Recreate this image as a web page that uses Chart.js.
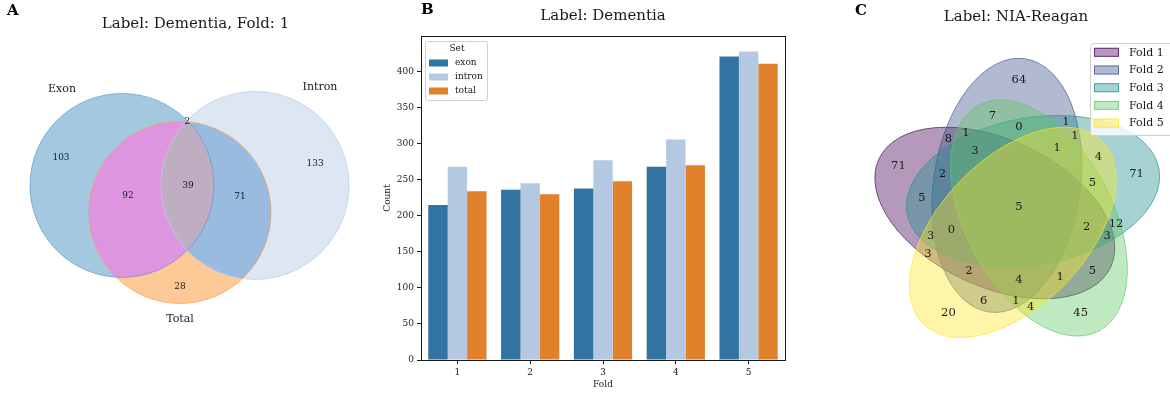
<!DOCTYPE html>
<html>
<head>
<meta charset="utf-8">
<script src="https://cdn.jsdelivr.net/npm/chart.js@4.4.0/dist/chart.umd.min.js"></script>
<style>
  body { margin: 0; background: #fff; width: 1170px; height: 393px; overflow: hidden; position: relative; }
  canvas { position: absolute; top: 0; }
</style>
</head>
<body>
<canvas id="chartA" width="380" height="393" style="left:0px"></canvas>
<canvas id="chartB" width="440" height="393" style="left:380px"></canvas>
<canvas id="chartC" width="330" height="393" style="left:840px"></canvas>
<script>
// Panel A : exon / intron / total, fold 1
const vennSets = ['Exon', 'Intron', 'Total'];
const vennRegions = ['100', '010', '001', '110', '101', '011', '111'];
const vennCounts = [103, 133, 28, 2, 92, 71, 39];

// Panel B : counts per fold
const folds = ['1', '2', '3', '4', '5'];
const exonCounts = [215, 236, 238, 268, 421];
const intronCounts = [268, 245, 277, 306, 428];
const totalCounts = [234, 230, 248, 270, 411];
const countTicks = [0, 50, 100, 150, 200, 250, 300, 350, 400];

// Panel C : NIA-Reagan, overlap of the five folds
const foldNames = ['Fold 1', 'Fold 2', 'Fold 3', 'Fold 4', 'Fold 5'];
const petalKeys = ['00001', '00010', '00011', '00100', '00101', '00110', '00111', '01000',
  '01001', '01010', '01011', '01100', '01101', '01110', '01111', '10000', '10001', '10010',
  '10011', '10100', '10101', '10110', '10111', '11000', '11001', '11010', '11011', '11100',
  '11101', '11110', '11111'];
const petalCounts = [20, 45, 4, 71, 4, 12, 5, 64,
  6, 7, 1, 1, 1, 0, 1, 71, 3, 5,
  1, 5, 3, 3, 2, 8, 2, 1, 4, 2,
  0, 3, 5];

Chart.defaults.font.family = "'DejaVu Serif', serif";
Chart.defaults.color = '#222';

const INK = '#1a1a1a';

// ---- geometry (layout, not data) ----
const circlesA = [
  { x: 0.2906, y: 0.5897, r: 0.2621 },
  { x: 0.6695, y: 0.5897, r: 0.2678 },
  { x: 0.4558, y: 0.5128, r: 0.2593 }
];
const setLabelPosA = [[0.1197, 0.8632], [0.8547, 0.8689], [0.4558, 0.2108]];
const regionPosA = [[0.1168, 0.6695], [0.8405, 0.6524], [0.4558, 0.3020], [0.4758, 0.7721],
  [0.3077, 0.5613], [0.6268, 0.5584], [0.4786, 0.5897]];
const regionColorsA = ['#a5c8e1', '#dde7f3', '#fdc997', '#c4d6ea', '#df94df', '#99bbe0', '#bfaec2'];
const edgeColorsA = ['rgba(31,119,180,0.45)', 'rgba(174,199,232,0.6)', 'rgba(255,127,14,0.45)'];

const ellipsesC = [
  { x: 0.428, y: 0.449, w: 0.87, h: 0.50, a: 155 },
  { x: 0.469, y: 0.543, w: 0.87, h: 0.50, a: 82 },
  { x: 0.558, y: 0.523, w: 0.87, h: 0.50, a: 10 },
  { x: 0.578, y: 0.432, w: 0.87, h: 0.50, a: 118 },
  { x: 0.489, y: 0.383, w: 0.87, h: 0.50, a: 46 }
];
const viridis5 = [[68, 1, 84], [59, 82, 139], [33, 145, 140], [94, 201, 98], [253, 231, 37]];
const petalPos = {
  '00001': [.27, .11], '00010': [.72, .11], '00011': [.55, .13], '00100': [.91, .58],
  '00101': [.78, .64], '00110': [.84, .41], '00111': [.76, .55], '01000': [.51, .90],
  '01001': [.39, .15], '01010': [.42, .78], '01011': [.50, .15], '01100': [.67, .76],
  '01101': [.70, .71], '01110': [.51, .74], '01111': [.64, .67], '10000': [.10, .61],
  '10001': [.20, .31], '10010': [.76, .25], '10011': [.65, .23], '10100': [.18, .50],
  '10101': [.21, .37], '10110': [.81, .37], '10111': [.74, .40], '11000': [.27, .70],
  '11001': [.34, .25], '11010': [.33, .72], '11011': [.51, .22], '11100': [.25, .58],
  '11101': [.28, .39], '11110': [.36, .66], '11111': [.51, .47]
};

function rgba(c, a) { return 'rgba(' + c[0] + ',' + c[1] + ',' + c[2] + ',' + a + ')'; }

function panelLetter(ctx, letter, x, y) {
  ctx.save();
  ctx.font = "bold 15px 'DejaVu Serif'";
  ctx.fillStyle = '#000';
  ctx.textAlign = 'left';
  ctx.textBaseline = 'middle';
  ctx.fillText(letter, x, y);
  ctx.restore();
}

function roundRect(ctx, x, y, w, h, r) {
  ctx.beginPath();
  ctx.moveTo(x + r, y);
  ctx.arcTo(x + w, y, x + w, y + h, r);
  ctx.arcTo(x + w, y + h, x, y + h, r);
  ctx.arcTo(x, y + h, x, y, r);
  ctx.arcTo(x, y, x + w, y, r);
  ctx.closePath();
}

const hiddenScales = {
  x: { type: 'linear', min: 0, max: 1, display: false },
  y: { type: 'linear', min: 0, max: 1, display: false }
};

// ---------------- Panel A ----------------
const vennPlugin = {
  id: 'venn3',
  afterDatasetsDraw(chart) {
    const ctx = chart.ctx, sx = chart.scales.x, sy = chart.scales.y;
    const W = chart.width, H = chart.height;
    const circ = circlesA.map(c => {
      const px = sx.getPixelForValue(c.x), py = sy.getPixelForValue(c.y);
      return { px, py, r: sx.getPixelForValue(c.x + c.r) - px };
    });
    vennRegions.forEach((key, i) => {
      ctx.save();
      key.split('').forEach((bit, k) => {
        const c = circ[k];
        ctx.beginPath();
        if (bit === '1') {
          ctx.arc(c.px, c.py, c.r, 0, 2 * Math.PI);
          ctx.clip();
        } else {
          ctx.rect(0, 0, W, H);
          ctx.arc(c.px, c.py, c.r, 0, 2 * Math.PI);
          ctx.clip('evenodd');
        }
      });
      ctx.fillStyle = regionColorsA[i];
      ctx.fillRect(0, 0, W, H);
      ctx.restore();
    });
    circ.forEach((c, k) => {
      ctx.beginPath();
      ctx.arc(c.px, c.py, c.r, 0, 2 * Math.PI);
      ctx.strokeStyle = edgeColorsA[k];
      ctx.lineWidth = 1;
      ctx.stroke();
    });
    ctx.save();
    ctx.fillStyle = INK;
    ctx.textAlign = 'center';
    ctx.textBaseline = 'middle';
    ctx.font = "9px 'DejaVu Serif'";
    vennCounts.forEach((v, i) => {
      ctx.fillText(String(v), sx.getPixelForValue(regionPosA[i][0]), sy.getPixelForValue(regionPosA[i][1]));
    });
    ctx.font = "11px 'DejaVu Serif'";
    vennSets.forEach((s, i) => {
      ctx.fillText(s, sx.getPixelForValue(setLabelPosA[i][0]), sy.getPixelForValue(setLabelPosA[i][1]));
    });
    ctx.restore();
    panelLetter(ctx, 'A', 7, 11);
  }
};

new Chart(document.getElementById('chartA'), {
  type: 'scatter',
  data: { datasets: [{ data: circlesA.map(c => ({ x: c.x, y: c.y })), pointRadius: 0 }] },
  options: {
    responsive: false,
    animation: false,
    layout: { padding: { left: 20, right: 9, top: 0, bottom: 0 } },
    plugins: {
      legend: { display: false },
      tooltip: { enabled: false },
      title: {
        display: true, text: 'Label: Dementia, Fold: 1', fullSize: false, color: INK,
        font: { size: 15, weight: 'normal' }, padding: { top: 15, bottom: 8 }
      }
    },
    scales: hiddenScales
  },
  plugins: [vennPlugin]
});

// ---------------- Panel B ----------------
const barDecor = {
  id: 'barDecor',
  afterDraw(chart) {
    const ctx = chart.ctx, a = chart.chartArea;
    ctx.save();
    ctx.strokeStyle = INK;
    ctx.lineWidth = 1;
    ctx.strokeRect(Math.round(a.left) + 0.5, Math.round(a.top) + 0.5,
      Math.round(a.right - a.left), Math.round(a.bottom - a.top));
    // legend box
    ctx.fillStyle = 'rgba(255,255,255,0.8)';
    ctx.strokeStyle = '#d0d0d0';
    roundRect(ctx, 45.5, 41.5, 62, 59, 2);
    ctx.fill();
    ctx.stroke();
    ctx.fillStyle = INK;
    ctx.font = "9px 'DejaVu Serif'";
    ctx.textBaseline = 'middle';
    ctx.textAlign = 'center';
    ctx.fillText('Set', 77, 49);
    ctx.textAlign = 'left';
    chart.data.datasets.forEach((ds, i) => {
      const y = 63 + i * 14;
      ctx.fillStyle = ds.backgroundColor;
      ctx.fillRect(49, y - 3.5, 19, 7);
      ctx.fillStyle = INK;
      ctx.fillText(ds.label, 75, y);
    });
    ctx.restore();
    panelLetter(ctx, 'B', 41, 10);
  }
};

new Chart(document.getElementById('chartB'), {
  type: 'bar',
  data: {
    labels: folds,
    datasets: [
      { label: 'exon', data: exonCounts, backgroundColor: '#3274a1' },
      { label: 'intron', data: intronCounts, backgroundColor: '#b5c8e1' },
      { label: 'total', data: totalCounts, backgroundColor: '#e1812c' }
    ]
  },
  options: {
    responsive: false,
    animation: false,
    datasets: { bar: { categoryPercentage: 0.8, barPercentage: 1.0, borderWidth: 0 } },
    layout: { padding: { left: 0, right: 35, top: 0, bottom: 0 } },
    plugins: {
      legend: { display: false },
      tooltip: { enabled: false },
      title: {
        display: true, text: 'Label: Dementia', fullSize: false, color: INK,
        font: { size: 15, weight: 'normal' }, padding: { top: 7, bottom: 11 }
      }
    },
    scales: {
      x: {
        grid: { drawOnChartArea: false, drawTicks: true, tickLength: 4, offset: false, color: INK },
        border: { color: INK },
        ticks: { font: { size: 9 }, color: INK, padding: 3 },
        title: { display: true, text: 'Fold', font: { size: 9 }, color: INK, padding: { top: 0, bottom: 3 } },
        afterFit(s) { s.height = 33; }
      },
      y: {
        min: 0,
        max: 449.4,
        grid: { drawOnChartArea: false, drawTicks: true, tickLength: 4, color: INK },
        border: { color: INK },
        ticks: { font: { size: 9 }, color: INK, padding: 3 },
        afterBuildTicks(s) { s.ticks = countTicks.map(v => ({ value: v })); },
        title: { display: true, text: 'Count', font: { size: 9 }, color: INK, padding: { top: 2, bottom: 0 } },
        afterFit(s) { s.width = 41; }
      }
    }
  },
  plugins: [barDecor]
});

// ---------------- Panel C ----------------
const venn5Plugin = {
  id: 'venn5',
  afterDatasetsDraw(chart) {
    const ctx = chart.ctx, sx = chart.scales.x, sy = chart.scales.y;
    const unit = sx.getPixelForValue(1) - sx.getPixelForValue(0);
    ellipsesC.forEach((e, i) => {
      ctx.beginPath();
      ctx.ellipse(sx.getPixelForValue(e.x), sy.getPixelForValue(e.y), e.w / 2 * unit, e.h / 2 * unit,
        -e.a * Math.PI / 180, 0, 2 * Math.PI);
      ctx.fillStyle = rgba(viridis5[i], 0.4);
      ctx.fill();
      ctx.strokeStyle = rgba(viridis5[i], 0.65);
      ctx.lineWidth = 1;
      ctx.stroke();
    });
    ctx.save();
    ctx.fillStyle = INK;
    ctx.font = "11.5px 'DejaVu Serif'";
    ctx.textAlign = 'center';
    ctx.textBaseline = 'middle';
    petalKeys.forEach((k, i) => {
      const p = petalPos[k];
      ctx.fillText(String(petalCounts[i]), sx.getPixelForValue(p[0]), sy.getPixelForValue(p[1]));
    });
    // legend (upper right)
    ctx.fillStyle = 'rgba(255,255,255,0.8)';
    ctx.strokeStyle = '#d0d0d0';
    roundRect(ctx, 250.5, 43.5, 84, 92, 3);
    ctx.fill();
    ctx.stroke();
    ctx.font = "11px 'DejaVu Serif'";
    ctx.textAlign = 'left';
    foldNames.forEach((name, i) => {
      const y = 52.3 + i * 17.7;
      ctx.fillStyle = rgba(viridis5[i], 0.4);
      ctx.fillRect(254, y - 4.5, 25, 9);
      ctx.strokeStyle = rgba(viridis5[i], 0.7);
      ctx.strokeRect(254.5, y - 4, 24, 8);
      ctx.fillStyle = INK;
      ctx.fillText(name, 289, y + 0.5);
    });
    ctx.restore();
    panelLetter(ctx, 'C', 15, 11);
  }
};

new Chart(document.getElementById('chartC'), {
  type: 'scatter',
  data: { datasets: [{ data: ellipsesC.map(e => ({ x: e.x, y: e.y })), pointRadius: 0 }] },
  options: {
    responsive: false,
    animation: false,
    layout: { padding: { left: 29, right: 7, top: 0, bottom: 48 } },
    plugins: {
      legend: { display: false },
      tooltip: { enabled: false },
      title: {
        display: true, text: 'Label: NIA-Reagan', fullSize: false, color: INK,
        font: { size: 15, weight: 'normal' }, padding: { top: 8, bottom: 25 }
      }
    },
    scales: hiddenScales
  },
  plugins: [venn5Plugin]
});
</script>
</body>
</html>
